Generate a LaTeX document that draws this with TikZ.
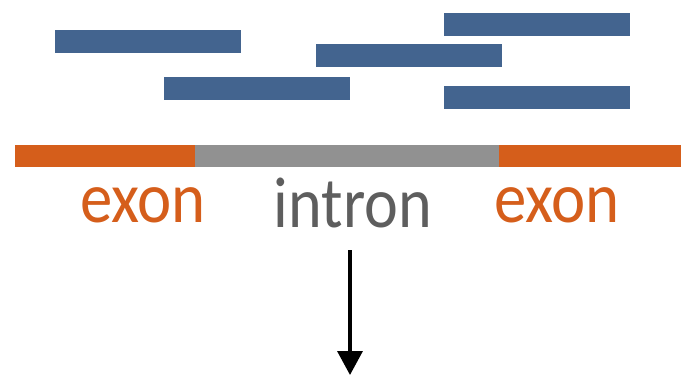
\documentclass[tikz,border=0pt]{standalone}
\usepackage{fontspec}
\setmainfont{Carlito}
\usetikzlibrary{arrows.meta}
\definecolor{readblue}{HTML}{43648F}
\definecolor{exonorange}{HTML}{D55E1B}
\definecolor{introngray}{HTML}{919191}
\definecolor{labelgray}{HTML}{5E5E5E}
\tikzset{
  bar/.style={rectangle, inner sep=0pt, outer sep=0pt, anchor=north west, draw=none},
  readbar/.style={bar, fill=readblue, minimum width=186pt, minimum height=23pt},
  label/.style={inner sep=0pt, anchor=base, font=\fontsize{72}{72}\selectfont},
}
\begin{document}
\begin{tikzpicture}[x=1pt, y=-1pt]
  \useasboundingbox (0,0) rectangle (681,376);
  % sequencing reads
  \node[readbar] (r1) at (55,30) {};
  \node[readbar] (r2) at (164,77) {};
  \node[readbar] (r3) at (316,44) {};
  \node[readbar] (r4) at (444,13) {};
  \node[readbar] (r5) at (444,86) {};
  % gene model
  \node[bar, fill=exonorange, minimum width=180pt, minimum height=22pt] (e1) at (15,145) {};
  \node[bar, fill=introngray, minimum width=304pt, minimum height=22pt] (in) at (195,145) {};
  \node[bar, fill=exonorange, minimum width=182pt, minimum height=22pt] (e2) at (499,145) {};
  % labels
  \node[label, text=exonorange] (l1) at (143,222) {\scalebox{0.9}[1]{exon}};
  \node[label, text=labelgray] (l2) at (353,227) {\scalebox{0.89}[1]{intron}};
  \node[label, text=exonorange] (l3) at (557,222) {\scalebox{0.9}[1]{exon}};
  % arrow
  \coordinate (a0) at (350,250);
  \coordinate (a1) at (350,375);
  \draw[line width=3.5pt, -{Triangle[width=25pt,length=24pt]}] (a0) -- (a1);
\end{tikzpicture}
\end{document}
